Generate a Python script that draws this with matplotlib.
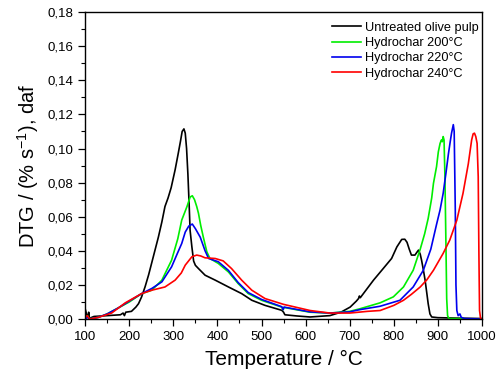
"""DTG curves of untreated olive pulp and hydrochars."""

import numpy as np
import matplotlib
matplotlib.use("Agg")
import matplotlib.pyplot as plt
from matplotlib.ticker import MultipleLocator, FuncFormatter

plt.rcParams["font.family"] = ["Liberation Sans", "DejaVu Sans"]
plt.rcParams["mathtext.default"] = "regular"

# temperature (°C) / DTG (% s^-1, daf)
t_raw = [100, 103, 106, 108, 110, 115, 120, 150, 180, 186, 189, 192, 205, 215,
         221, 228, 236, 244, 251, 258, 266, 274, 281, 288, 295, 304, 311, 316,
         320, 324, 327, 330, 333, 336, 338, 342, 346, 350, 357, 372, 395, 425,
         455, 478, 508, 546, 550, 553, 580, 610, 655, 680, 701, 715, 720, 722,
         724, 731, 754, 776, 795, 807, 818, 825, 830, 835, 840, 848, 852, 856,
         860, 863, 867, 871, 875, 878, 882, 886, 900, 950, 1000]
dtg_raw = [0.006, 0.003, 0.001, 0.004, 0.000, 0.001, 0.0015, 0.002, 0.0025,
           0.0035, 0.002, 0.004, 0.0045, 0.007, 0.009, 0.013, 0.019, 0.026,
           0.033, 0.040, 0.048, 0.057, 0.066, 0.071, 0.077, 0.0875, 0.097,
           0.104, 0.110, 0.1115, 0.109, 0.100, 0.085, 0.066, 0.052, 0.0424,
           0.034, 0.0315, 0.0296, 0.0257, 0.0228, 0.0188, 0.0149, 0.011, 0.008,
           0.0051, 0.004, 0.0025, 0.0018, 0.0012, 0.002, 0.004, 0.007, 0.0105,
           0.012, 0.0135, 0.0125, 0.0149, 0.0228, 0.0296, 0.0355, 0.0423,
           0.0467, 0.0468, 0.045, 0.041, 0.0375, 0.0375, 0.039, 0.0404, 0.038,
           0.0345, 0.029, 0.0228, 0.015, 0.009, 0.003, 0.0012, 0.0008, 0.0005,
           0.0003]

t_200 = [100, 105, 110, 120, 130, 150, 175, 200, 228, 251, 274, 296, 310, 319,
         331, 338, 343, 348, 353, 357, 362, 368, 376, 383, 402, 425, 447, 470,
         500, 546, 549, 551, 610, 655, 700, 723, 769, 799, 822, 844, 860, 870,
         878, 886, 890, 897, 901, 905, 908, 910, 912, 914, 916, 918.5, 920,
         922, 925, 1000]
dtg_200 = [0.000, 0.002, 0.000, 0.0005, 0.001, 0.003, 0.0065, 0.010, 0.0149,
           0.0169, 0.0228, 0.0345, 0.047, 0.058, 0.066, 0.0715, 0.0723, 0.070,
           0.066, 0.062, 0.055, 0.048, 0.0394, 0.0355, 0.0326, 0.0276, 0.0208,
           0.0149, 0.011, 0.007, 0.0055, 0.0068, 0.004, 0.0035, 0.0045, 0.006,
           0.0095, 0.013, 0.0188, 0.0286, 0.041, 0.050, 0.059, 0.071, 0.0796,
           0.0894, 0.098, 0.103, 0.105, 0.104, 0.107, 0.105, 0.0835, 0.040,
           0.012, 0.002, 0.0003, 0.0]

t_220 = [100, 105, 110, 120, 130, 150, 175, 200, 228, 251, 274, 296, 310, 319,
         327, 335, 343, 350, 361, 372, 380, 402, 425, 447, 470, 500, 546, 549,
         551, 610, 655, 700, 723, 769, 814, 844, 867, 884, 897, 905, 912, 918,
         924, 928, 931, 935, 937, 939.5, 941, 943, 946, 950, 953, 960, 1000]
dtg_220 = [0.000, 0.001, 0.000, 0.0005, 0.001, 0.003, 0.0065, 0.0105, 0.0149,
           0.0179, 0.0218, 0.0306, 0.039, 0.0443, 0.051, 0.0545, 0.0557, 0.053,
           0.048, 0.040, 0.0355, 0.0336, 0.0285, 0.0214, 0.0155, 0.0115,
           0.0072, 0.0055, 0.007, 0.0042, 0.0035, 0.0042, 0.0055, 0.0075,
           0.011, 0.0188, 0.0286, 0.041, 0.0555, 0.064, 0.0737, 0.085, 0.097,
           0.104, 0.109, 0.114, 0.110, 0.064, 0.020, 0.005, 0.002, 0.003, 0.001,
           0.0003, 0.0]

t_240 = [100, 105, 110, 130, 160, 191, 228, 251, 281, 304, 318, 327, 342, 353,
         362, 372, 395, 413, 432, 455, 478, 508, 550, 610, 655, 700, 740, 769,
         800, 822, 840, 860, 875, 890, 912, 927, 943, 957, 969, 976.6, 980,
         983, 986, 989, 991.5, 993, 994.5, 997, 1000]
dtg_240 = [0.001, 0.002, 0.000, 0.001, 0.0035, 0.0095, 0.0149, 0.0169, 0.0188,
           0.0228, 0.027, 0.0316, 0.0365, 0.0375, 0.037, 0.0359, 0.0355,
           0.0341, 0.0296, 0.0228, 0.0169, 0.012, 0.0086, 0.005, 0.0035,
           0.0035, 0.0045, 0.005, 0.008, 0.011, 0.0145, 0.0188, 0.023, 0.0286,
           0.0385, 0.0463, 0.058, 0.0737, 0.091, 0.105, 0.1086, 0.109, 0.107,
           0.103, 0.0835, 0.040, 0.005, 0.0, 0.0]

series = [
    ("Untreated olive pulp", t_raw, dtg_raw, "black"),
    ("Hydrochar 200°C", t_200, dtg_200, "#00ee00"),
    ("Hydrochar 220°C", t_220, dtg_220, "#0000ee"),
    ("Hydrochar 240°C", t_240, dtg_240, "#ff0000"),
]

fig = plt.figure(figsize=(5.01, 3.78), dpi=100)
ax = fig.add_axes([0.170, 0.156, 0.792, 0.812])

for label, t, d, c in series:
    ax.plot(t, d, color=c, linewidth=1.2, label=label)

ax.set_xlim(100, 1000)
ax.set_ylim(0, 0.18)
ax.xaxis.set_major_locator(MultipleLocator(100))
ax.xaxis.set_minor_locator(MultipleLocator(50))
ax.yaxis.set_major_locator(MultipleLocator(0.02))
ax.yaxis.set_minor_locator(MultipleLocator(0.01))
ax.yaxis.set_major_formatter(FuncFormatter(lambda v, p: f"{v:.2f}".replace(".", ",")))
ax.tick_params(which="major", direction="out", length=5, width=0.9, labelsize=9.5,
               top=False, right=False)
ax.tick_params(which="minor", direction="out", length=3, width=0.8,
               top=False, right=False)
for sp in ax.spines.values():
    sp.set_linewidth(1.0)

ax.set_xlabel("Temperature / °C", fontsize=15, labelpad=5)
ax.set_ylabel("DTG / (% s$^{-1}$), daf", fontsize=14.5, labelpad=5)

ax.legend(loc="upper right", frameon=False, fontsize=9.2, handlelength=2.3,
          handletextpad=0.3, labelspacing=0.25, borderaxespad=0.3,
          bbox_to_anchor=(1.015, 0.997))

fig.savefig("out.png", dpi=100)
